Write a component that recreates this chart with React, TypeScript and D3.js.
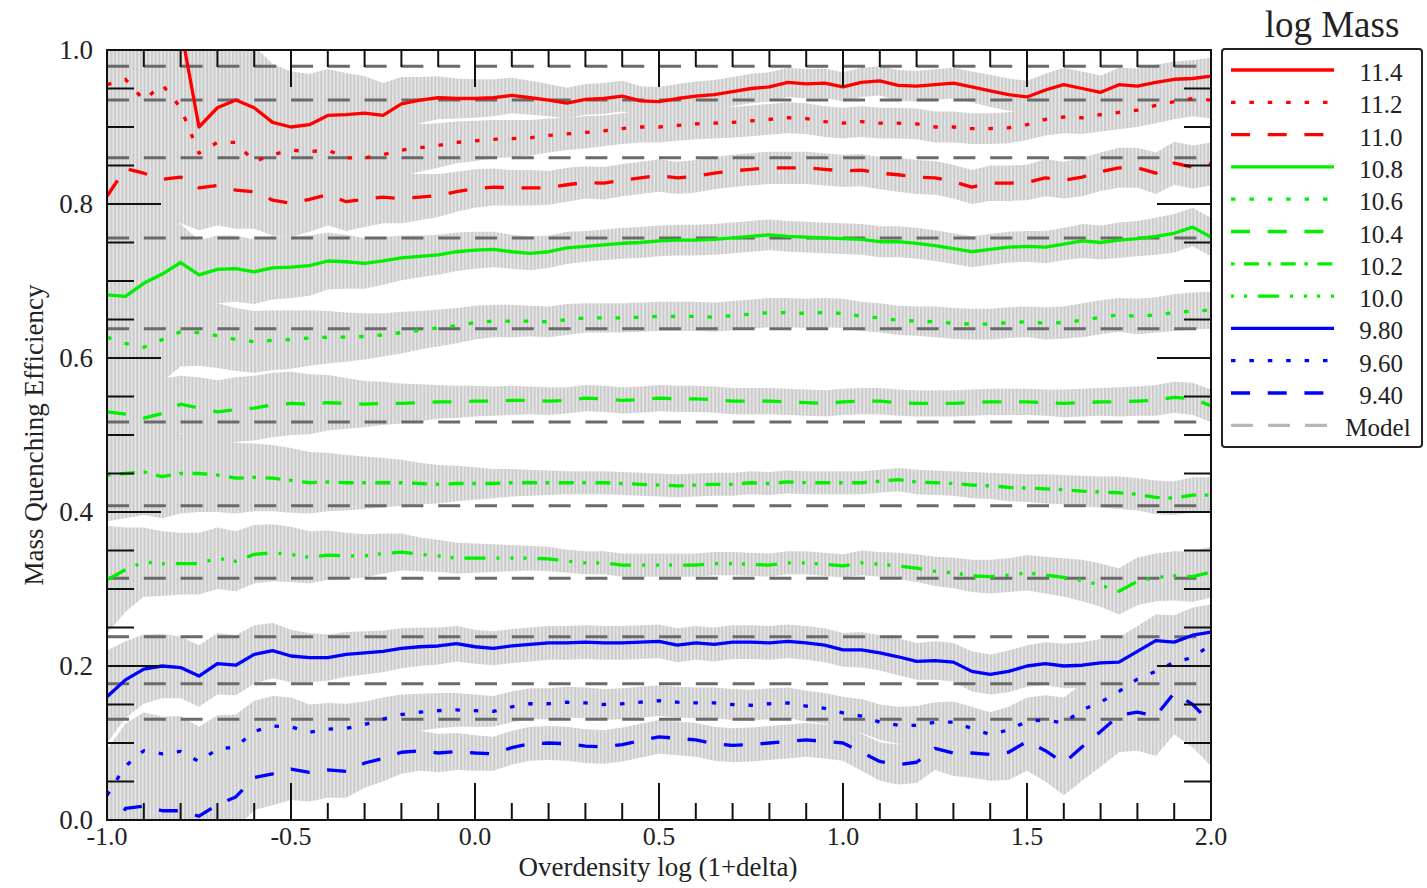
import React from 'react';
import * as d3 from 'd3';

// ---------------- data ----------------
const X = [-1, -0.95, -0.9, -0.85, -0.8, -0.75, -0.7, -0.65, -0.6, -0.55, -0.5, -0.45, -0.4, -0.35, -0.3, -0.25, -0.2, -0.15, -0.1, -0.05, 0, 0.05, 0.1, 0.15, 0.2, 0.25, 0.3, 0.35, 0.4, 0.45, 0.5, 0.55, 0.6, 0.65, 0.7, 0.75, 0.8, 0.85, 0.9, 0.95, 1, 1.05, 1.1, 1.15, 1.2, 1.25, 1.3, 1.35, 1.4, 1.45, 1.5, 1.55, 1.6, 1.65, 1.7, 1.75, 1.8, 1.85, 1.9, 1.95, 2];

const MASS_LABELS = ['11.4', '11.2', '11.0', '10.8', '10.6', '10.4', '10.2', '10.0', '9.80', '9.60', '9.40'];

const M114 = [null, null, null, null, 1.03, 0.900, 0.925, 0.935, 0.925, 0.906, 0.900, 0.903, 0.915, 0.916, 0.918, 0.915, 0.930, 0.935, 0.938, 0.937, 0.937, 0.938, 0.941, 0.938, 0.935, 0.931, 0.936, 0.937, 0.940, 0.934, 0.933, 0.937, 0.940, 0.942, 0.946, 0.950, 0.952, 0.958, 0.956, 0.957, 0.952, 0.958, 0.960, 0.954, 0.953, 0.955, 0.957, 0.952, 0.947, 0.942, 0.939, 0.948, 0.955, 0.950, 0.945, 0.955, 0.953, 0.958, 0.962, 0.963, 0.966];
const M112 = [0.955, 0.962, 0.935, 0.955, 0.925, 0.866, 0.880, 0.880, 0.855, 0.864, 0.870, 0.868, 0.870, 0.860, 0.860, 0.864, 0.870, 0.873, 0.876, 0.880, 0.882, 0.884, 0.885, 0.886, 0.889, 0.891, 0.893, 0.895, 0.898, 0.900, 0.900, 0.902, 0.904, 0.905, 0.906, 0.908, 0.910, 0.912, 0.911, 0.907, 0.905, 0.907, 0.905, 0.905, 0.904, 0.900, 0.900, 0.898, 0.898, 0.899, 0.903, 0.910, 0.913, 0.912, 0.916, 0.919, 0.922, 0.928, 0.933, 0.937, 0.935];
const M110 = [0.810, 0.846, 0.840, 0.832, 0.835, 0.821, 0.824, 0.818, 0.816, 0.805, 0.801, 0.806, 0.812, 0.803, 0.806, 0.809, 0.807, 0.809, 0.811, 0.816, 0.820, 0.822, 0.821, 0.821, 0.821, 0.825, 0.828, 0.827, 0.831, 0.834, 0.837, 0.834, 0.836, 0.840, 0.843, 0.845, 0.847, 0.847, 0.847, 0.845, 0.843, 0.844, 0.840, 0.838, 0.835, 0.834, 0.829, 0.822, 0.827, 0.827, 0.828, 0.834, 0.831, 0.835, 0.842, 0.847, 0.847, 0.840, 0.853, 0.848, 0.852];
const M108 = [0.682, 0.680, 0.697, 0.709, 0.724, 0.708, 0.715, 0.716, 0.712, 0.717, 0.718, 0.720, 0.726, 0.725, 0.723, 0.726, 0.730, 0.732, 0.734, 0.738, 0.740, 0.741, 0.738, 0.736, 0.738, 0.743, 0.745, 0.747, 0.749, 0.750, 0.752, 0.753, 0.753, 0.754, 0.756, 0.758, 0.760, 0.758, 0.757, 0.756, 0.755, 0.754, 0.751, 0.751, 0.749, 0.746, 0.742, 0.738, 0.741, 0.744, 0.745, 0.744, 0.748, 0.752, 0.750, 0.753, 0.755, 0.758, 0.762, 0.770, 0.757];
const M106 = [0.627, 0.619, 0.614, 0.624, 0.634, 0.633, 0.629, 0.624, 0.621, 0.623, 0.624, 0.626, 0.627, 0.627, 0.628, 0.630, 0.633, 0.636, 0.639, 0.642, 0.646, 0.648, 0.648, 0.648, 0.647, 0.650, 0.652, 0.652, 0.652, 0.653, 0.654, 0.654, 0.654, 0.653, 0.655, 0.657, 0.659, 0.659, 0.658, 0.659, 0.658, 0.654, 0.652, 0.649, 0.648, 0.647, 0.645, 0.644, 0.644, 0.646, 0.647, 0.645, 0.646, 0.649, 0.653, 0.656, 0.654, 0.656, 0.659, 0.661, 0.662];
const M104 = [0.530, 0.527, 0.522, 0.528, 0.540, 0.535, 0.530, 0.533, 0.535, 0.539, 0.541, 0.540, 0.542, 0.541, 0.540, 0.541, 0.541, 0.542, 0.543, 0.543, 0.544, 0.544, 0.545, 0.545, 0.544, 0.545, 0.548, 0.547, 0.545, 0.546, 0.548, 0.547, 0.547, 0.546, 0.544, 0.544, 0.544, 0.543, 0.542, 0.541, 0.543, 0.544, 0.544, 0.542, 0.541, 0.541, 0.541, 0.542, 0.543, 0.543, 0.543, 0.542, 0.541, 0.542, 0.543, 0.543, 0.544, 0.545, 0.549, 0.547, 0.538];
const M102 = [0.448, 0.450, 0.452, 0.446, 0.450, 0.450, 0.448, 0.444, 0.445, 0.444, 0.441, 0.438, 0.439, 0.438, 0.438, 0.438, 0.438, 0.437, 0.436, 0.437, 0.437, 0.437, 0.438, 0.438, 0.438, 0.438, 0.438, 0.438, 0.437, 0.436, 0.435, 0.434, 0.435, 0.436, 0.436, 0.438, 0.437, 0.439, 0.438, 0.438, 0.438, 0.438, 0.440, 0.442, 0.439, 0.438, 0.437, 0.435, 0.434, 0.432, 0.431, 0.430, 0.429, 0.427, 0.426, 0.425, 0.423, 0.419, 0.418, 0.422, 0.422];
const M100 = [0.312, 0.325, 0.335, 0.333, 0.333, 0.333, 0.340, 0.336, 0.345, 0.347, 0.345, 0.341, 0.344, 0.343, 0.343, 0.346, 0.348, 0.345, 0.343, 0.340, 0.340, 0.340, 0.340, 0.340, 0.339, 0.336, 0.334, 0.334, 0.331, 0.331, 0.331, 0.331, 0.331, 0.333, 0.333, 0.332, 0.331, 0.334, 0.334, 0.332, 0.330, 0.334, 0.332, 0.330, 0.327, 0.323, 0.321, 0.317, 0.316, 0.318, 0.321, 0.318, 0.315, 0.311, 0.305, 0.297, 0.310, 0.315, 0.317, 0.316, 0.322];
const M098 = [0.160, 0.182, 0.196, 0.200, 0.198, 0.187, 0.203, 0.201, 0.215, 0.220, 0.213, 0.211, 0.211, 0.215, 0.217, 0.219, 0.223, 0.225, 0.226, 0.229, 0.225, 0.223, 0.226, 0.228, 0.230, 0.230, 0.231, 0.230, 0.230, 0.231, 0.232, 0.227, 0.230, 0.228, 0.231, 0.231, 0.230, 0.232, 0.230, 0.227, 0.221, 0.221, 0.217, 0.212, 0.206, 0.207, 0.205, 0.193, 0.189, 0.193, 0.200, 0.203, 0.200, 0.201, 0.204, 0.205, 0.219, 0.233, 0.231, 0.240, 0.244];
const M096 = [0.032, 0.070, 0.090, 0.086, 0.089, 0.076, 0.092, 0.095, 0.115, 0.122, 0.121, 0.114, 0.118, 0.119, 0.124, 0.131, 0.137, 0.140, 0.142, 0.143, 0.142, 0.141, 0.147, 0.151, 0.151, 0.153, 0.152, 0.150, 0.151, 0.153, 0.155, 0.153, 0.152, 0.152, 0.150, 0.149, 0.151, 0.152, 0.148, 0.145, 0.139, 0.135, 0.127, 0.123, 0.123, 0.127, 0.127, 0.119, 0.111, 0.117, 0.128, 0.130, 0.126, 0.143, 0.153, 0.167, 0.183, 0.193, 0.205, 0.211, 0.228];
const M094 = [-0.03, 0.015, 0.018, 0.012, 0.012, 0.005, 0.020, 0.030, 0.055, 0.060, 0.066, 0.062, 0.065, 0.063, 0.074, 0.080, 0.088, 0.090, 0.087, 0.089, 0.087, 0.086, 0.094, 0.099, 0.100, 0.099, 0.096, 0.095, 0.098, 0.103, 0.108, 0.106, 0.104, 0.099, 0.097, 0.098, 0.100, 0.102, 0.104, 0.102, 0.100, 0.088, 0.076, 0.072, 0.075, 0.093, 0.087, 0.087, 0.085, 0.088, 0.102, 0.090, 0.074, 0.095, 0.115, 0.136, 0.140, 0.135, 0.165, 0.150, 0.126];

// error half-widths (grey bands)
const E114 = [null, null, null, null, 0.12, 0.10, 0.09, 0.085, 0.08, 0.076, 0.072, 0.066, 0.06, 0.054, 0.048, 0.042, 0.035, 0.03, 0.028, 0.026, 0.025, 0.024, 0.023, 0.022, 0.021, 0.02, 0.02, 0.02, 0.02, 0.019, 0.019, 0.019, 0.019, 0.019, 0.019, 0.019, 0.019, 0.019, 0.019, 0.019, 0.019, 0.019, 0.019, 0.02, 0.02, 0.02, 0.02, 0.02, 0.021, 0.021, 0.021, 0.021, 0.022, 0.022, 0.022, 0.022, 0.023, 0.023, 0.023, 0.024, 0.024];
const E112 = [0.10, 0.095, 0.09, 0.085, 0.08, 0.075, 0.07, 0.065, 0.06, 0.056, 0.052, 0.049, 0.046, 0.043, 0.04, 0.037, 0.034, 0.031, 0.029, 0.027, 0.026, 0.025, 0.024, 0.023, 0.022, 0.021, 0.021, 0.02, 0.02, 0.02, 0.02, 0.02, 0.02, 0.02, 0.02, 0.02, 0.02, 0.02, 0.02, 0.02, 0.02, 0.02, 0.02, 0.02, 0.02, 0.02, 0.02, 0.02, 0.02, 0.02, 0.02, 0.021, 0.021, 0.021, 0.022, 0.022, 0.022, 0.023, 0.023, 0.023, 0.024];
const E110 = [0.10, 0.09, 0.08, 0.07, 0.06, 0.055, 0.052, 0.05, 0.048, 0.046, 0.044, 0.042, 0.04, 0.038, 0.036, 0.034, 0.032, 0.03, 0.028, 0.026, 0.025, 0.024, 0.023, 0.023, 0.022, 0.022, 0.021, 0.021, 0.021, 0.021, 0.021, 0.021, 0.021, 0.021, 0.021, 0.021, 0.021, 0.021, 0.021, 0.021, 0.021, 0.021, 0.021, 0.022, 0.022, 0.022, 0.022, 0.022, 0.023, 0.023, 0.023, 0.024, 0.024, 0.025, 0.025, 0.026, 0.026, 0.027, 0.028, 0.028, 0.028];
const E108 = [0.09, 0.08, 0.07, 0.06, 0.05, 0.045, 0.044, 0.043, 0.042, 0.041, 0.04, 0.039, 0.037, 0.035, 0.033, 0.031, 0.029, 0.027, 0.026, 0.025, 0.024, 0.023, 0.022, 0.022, 0.021, 0.021, 0.02, 0.02, 0.02, 0.02, 0.02, 0.02, 0.02, 0.02, 0.02, 0.02, 0.02, 0.02, 0.02, 0.02, 0.02, 0.02, 0.02, 0.02, 0.02, 0.02, 0.02, 0.02, 0.02, 0.02, 0.02, 0.021, 0.021, 0.022, 0.022, 0.023, 0.023, 0.024, 0.025, 0.025, 0.025];
const E106 = [0.10, 0.085, 0.07, 0.055, 0.045, 0.043, 0.042, 0.041, 0.04, 0.039, 0.038, 0.036, 0.034, 0.032, 0.03, 0.028, 0.027, 0.025, 0.024, 0.023, 0.022, 0.021, 0.021, 0.02, 0.02, 0.02, 0.019, 0.019, 0.019, 0.019, 0.019, 0.019, 0.019, 0.019, 0.019, 0.019, 0.019, 0.019, 0.019, 0.019, 0.019, 0.019, 0.019, 0.019, 0.019, 0.02, 0.02, 0.02, 0.02, 0.02, 0.02, 0.021, 0.021, 0.022, 0.022, 0.022, 0.023, 0.023, 0.024, 0.024, 0.024];
const E104 = [0.09, 0.075, 0.06, 0.045, 0.037, 0.04, 0.041, 0.042, 0.042, 0.042, 0.041, 0.039, 0.036, 0.033, 0.03, 0.028, 0.026, 0.024, 0.022, 0.021, 0.02, 0.019, 0.019, 0.018, 0.018, 0.017, 0.017, 0.017, 0.017, 0.017, 0.017, 0.017, 0.017, 0.017, 0.017, 0.017, 0.017, 0.017, 0.017, 0.017, 0.017, 0.017, 0.017, 0.017, 0.017, 0.017, 0.017, 0.017, 0.017, 0.017, 0.017, 0.017, 0.018, 0.018, 0.018, 0.019, 0.019, 0.02, 0.02, 0.021, 0.021];
const E102 = [0.06, 0.058, 0.056, 0.054, 0.052, 0.05, 0.048, 0.046, 0.044, 0.043, 0.042, 0.04, 0.038, 0.036, 0.034, 0.032, 0.03, 0.027, 0.025, 0.023, 0.021, 0.019, 0.018, 0.017, 0.016, 0.015, 0.015, 0.015, 0.015, 0.015, 0.015, 0.015, 0.015, 0.015, 0.015, 0.015, 0.015, 0.015, 0.015, 0.015, 0.015, 0.015, 0.015, 0.015, 0.016, 0.016, 0.016, 0.017, 0.017, 0.018, 0.018, 0.019, 0.019, 0.02, 0.02, 0.021, 0.021, 0.022, 0.022, 0.023, 0.023];
const E100 = [0.07, 0.055, 0.045, 0.042, 0.04, 0.04, 0.04, 0.039, 0.038, 0.037, 0.036, 0.034, 0.032, 0.03, 0.028, 0.026, 0.024, 0.022, 0.021, 0.02, 0.019, 0.018, 0.017, 0.016, 0.016, 0.015, 0.015, 0.015, 0.015, 0.015, 0.015, 0.015, 0.015, 0.015, 0.015, 0.015, 0.015, 0.015, 0.015, 0.015, 0.015, 0.016, 0.016, 0.017, 0.018, 0.019, 0.02, 0.021, 0.022, 0.022, 0.023, 0.024, 0.025, 0.027, 0.028, 0.03, 0.031, 0.031, 0.032, 0.033, 0.033];
const E098 = [0.06, 0.05, 0.045, 0.042, 0.04, 0.04, 0.04, 0.039, 0.038, 0.036, 0.034, 0.032, 0.03, 0.029, 0.028, 0.027, 0.026, 0.025, 0.024, 0.023, 0.022, 0.022, 0.022, 0.022, 0.022, 0.022, 0.022, 0.022, 0.022, 0.022, 0.022, 0.022, 0.022, 0.022, 0.022, 0.022, 0.022, 0.022, 0.022, 0.022, 0.022, 0.023, 0.023, 0.024, 0.024, 0.025, 0.025, 0.026, 0.026, 0.027, 0.027, 0.028, 0.029, 0.03, 0.031, 0.032, 0.033, 0.034, 0.035, 0.036, 0.036];
const E096 = [0.06, 0.055, 0.05, 0.048, 0.046, 0.045, 0.044, 0.042, 0.04, 0.039, 0.038, 0.036, 0.034, 0.032, 0.03, 0.028, 0.026, 0.024, 0.023, 0.022, 0.021, 0.02, 0.02, 0.02, 0.02, 0.02, 0.02, 0.02, 0.02, 0.02, 0.02, 0.02, 0.02, 0.02, 0.02, 0.02, 0.02, 0.02, 0.02, 0.02, 0.021, 0.022, 0.023, 0.024, 0.025, 0.026, 0.027, 0.028, 0.029, 0.03, 0.031, 0.032, 0.033, 0.034, 0.035, 0.036, 0.037, 0.038, 0.04, 0.042, 0.042];
const E094 = [0.05, 0.05, 0.05, 0.048, 0.046, 0.045, 0.044, 0.043, 0.042, 0.041, 0.04, 0.038, 0.036, 0.034, 0.032, 0.03, 0.028, 0.026, 0.025, 0.024, 0.023, 0.022, 0.022, 0.022, 0.022, 0.022, 0.022, 0.022, 0.022, 0.022, 0.022, 0.022, 0.022, 0.022, 0.022, 0.022, 0.022, 0.022, 0.022, 0.022, 0.023, 0.024, 0.025, 0.026, 0.027, 0.028, 0.03, 0.032, 0.034, 0.036, 0.038, 0.04, 0.042, 0.044, 0.046, 0.048, 0.05, 0.052, 0.054, 0.056, 0.056];

const MODEL = [0.979, 0.935, 0.860, 0.756, 0.638, 0.517, 0.408, 0.314, 0.238, 0.177, 0.131];

const X_TICK_LABELS = ['-1.0', '-0.5', '0.0', '0.5', '1.0', '1.5', '2.0'];
const Y_TICK_LABELS = ['0.0', '0.2', '0.4', '0.6', '0.8', '1.0'];

// ---------------- styles ----------------
const RED = '#ff0000';
const GREEN = '#00f000';
const BLUE = '#0000ff';
const DOT = '4.5 13.9';
const DASH = '19 17.7';
const DASHDOT = '3.5 9.5 15 8.7';
const DASHDOTDOT = '21 11 3 11 3 10 3 11';

const FONT = "'Liberation Serif', 'Times New Roman', serif";

const W = 1427;
const H = 888;
const L = 107;
const R = 1211;
const T = 50;
const B = 820;

export default function App() {
  const x = d3.scaleLinear().domain([-1, 2]).range([L, R]);
  const y = d3.scaleLinear().domain([0, 1]).range([B, T]);

  const values = [M114, M112, M110, M108, M106, M104, M102, M100, M098, M096, M094];
  const errors = [E114, E112, E110, E108, E106, E104, E102, E100, E098, E096, E094];
  const colors = [RED, RED, RED, GREEN, GREEN, GREEN, GREEN, GREEN, BLUE, BLUE, BLUE];
  const dashes = [null, DOT, DASH, null, DOT, DASH, DASHDOT, DASHDOTDOT, null, DOT, DASH];
  const legendOffsets = [0, 0, 0, 0, 0, 0, 0, 46, 0, 0, 0];

  const series = MASS_LABELS.map((label, k) => ({
    label,
    color: colors[k],
    dash: dashes[k],
    offset: legendOffsets[k],
    pts: X.map((xv, i) => ({ x: xv, v: values[k][i], e: errors[k][i] })),
  }));

  const lineGen = d3
    .line<any>()
    .defined((d) => d.v != null)
    .x((d) => x(d.x))
    .y((d) => y(d.v));
  const areaGen = d3
    .area<any>()
    .defined((d) => d.v != null && d.e != null)
    .x((d) => x(d.x))
    .y0((d) => y(d.v - d.e))
    .y1((d) => y(d.v + d.e));

  const xTicks = x.ticks(30);
  const yTicks = y.ticks(20);
  const isMajorX = (v: number) => Math.abs(v * 2 - Math.round(v * 2)) < 1e-6;
  const isMajorY = (v: number) => Math.abs(v * 5 - Math.round(v * 5)) < 1e-6;

  const legendX0 = 1231;
  const legendX1 = 1334;
  const legendY0 = 70;
  const legendStep = 32.3;

  return (
    <svg
      width={W}
      height={H}
      style={{ position: 'absolute', left: 0, top: 0, background: '#fff' }}
      fontFamily={FONT}
    >
      <defs>
        <clipPath id="plotClip">
          <rect x={L} y={T} width={R - L} height={B - T} />
        </clipPath>
        <pattern id="stripes" width={3.68} height={10} patternUnits="userSpaceOnUse">
          <rect width={3.68} height={10} fill="#e9e9e9" />
          <rect width={2.2} height={10} fill="#cbcbcb" />
        </pattern>
      </defs>
      <rect x={0} y={0} width={W} height={H} fill="#fff" />

      <g clipPath="url(#plotClip)">
        {series.map((s) => (
          <path key={'band' + s.label} d={areaGen(s.pts) || ''} fill="url(#stripes)" />
        ))}
        {MODEL.map((m, i) => (
          <path
            key={'model' + i}
            d={d3.line<number>().x((d) => x(d)).y(() => y(m))([-1, 2]) || ''}
            stroke="#6a6a6a"
            strokeWidth={3}
            strokeDasharray="22 14.8"
            fill="none"
          />
        ))}
        {series.map((s) => (
          <path
            key={'line' + s.label}
            d={lineGen(s.pts) || ''}
            stroke={s.color}
            strokeWidth={3.3}
            strokeDasharray={s.dash || undefined}
            strokeLinejoin="round"
            fill="none"
          />
        ))}
      </g>

      {/* ticks */}
      {xTicks.map((t) => {
        const len = isMajorX(t) ? 37 : 17;
        return (
          <g key={'xt' + t}>
            <line x1={x(t)} x2={x(t)} y1={B} y2={B - len} stroke="#111" strokeWidth={2} />
            <line x1={x(t)} x2={x(t)} y1={T} y2={T + len} stroke="#111" strokeWidth={2} />
          </g>
        );
      })}
      {yTicks.map((t) => {
        const len = isMajorY(t) ? 54 : 27;
        return (
          <g key={'yt' + t}>
            <line x1={L} x2={L + len} y1={y(t)} y2={y(t)} stroke="#111" strokeWidth={2} />
            <line x1={R} x2={R - len} y1={y(t)} y2={y(t)} stroke="#111" strokeWidth={2} />
          </g>
        );
      })}
      <rect x={L} y={T} width={R - L} height={B - T} fill="none" stroke="#111" strokeWidth={2} />

      {/* tick labels */}
      {X_TICK_LABELS.map((lab) => (
        <text key={'xl' + lab} x={x(parseFloat(lab))} y={845} fontSize={26} textAnchor="middle" fill="#222">
          {lab}
        </text>
      ))}
      {Y_TICK_LABELS.map((lab) => (
        <text key={'yl' + lab} x={93} y={y(parseFloat(lab)) + 9} fontSize={27} textAnchor="end" fill="#222">
          {lab}
        </text>
      ))}

      {/* axis titles */}
      <text x={658} y={876} fontSize={27} textAnchor="middle" fill="#222">
        Overdensity log (1+delta)
      </text>
      <text
        transform={`translate(43, 435) rotate(-90)`}
        fontSize={27}
        textAnchor="middle"
        fill="#222"
      >
        Mass Quenching Efficiency
      </text>

      {/* legend */}
      <text x={1332} y={37} fontSize={37} textAnchor="middle" fill="#222">
        log Mass
      </text>
      <rect x={1222} y={49} width={200} height={398} rx={3} fill="#fff" stroke="#222" strokeWidth={2} />
      {series.map((s, i) => {
        const ly = legendY0 + i * legendStep;
        return (
          <g key={'lg' + s.label}>
            <line
              x1={legendX0}
              x2={legendX1}
              y1={ly}
              y2={ly}
              stroke={s.color}
              strokeWidth={3.3}
              strokeDasharray={s.dash || undefined}
              strokeDashoffset={s.offset}
            />
            <text x={1381} y={ly + 11} fontSize={25} textAnchor="middle" fill="#222">
              {s.label}
            </text>
          </g>
        );
      })}
      <g>
        <line
          x1={legendX0}
          x2={legendX1}
          y1={legendY0 + 11 * legendStep}
          y2={legendY0 + 11 * legendStep}
          stroke="#b8b8b8"
          strokeWidth={3.3}
          strokeDasharray="22 15"
        />
        <text x={1378} y={legendY0 + 11 * legendStep + 11} fontSize={25} textAnchor="middle" fill="#222">
          Model
        </text>
      </g>
    </svg>
  );
}
